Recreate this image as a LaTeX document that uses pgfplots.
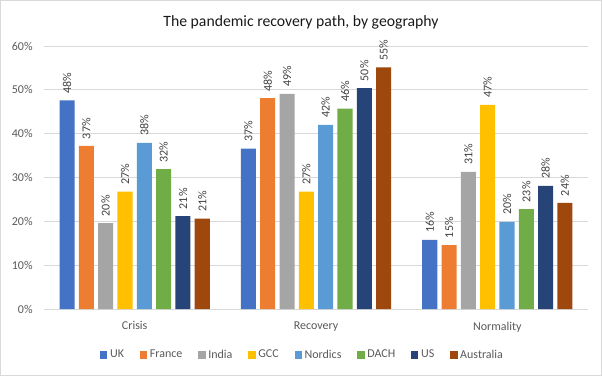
\documentclass[border=0pt]{standalone}
\usepackage{fontspec}
\setmainfont{Carlito}
\usepackage{pgfplots}
\pgfplotsset{compat=1.18}
\definecolor{cUK}{HTML}{4472C4}
\definecolor{cFR}{HTML}{ED7D31}
\definecolor{cIN}{HTML}{A5A5A5}
\definecolor{cGCC}{HTML}{FFC000}
\definecolor{cNO}{HTML}{5B9BD5}
\definecolor{cDA}{HTML}{70AD47}
\definecolor{cUS}{HTML}{264478}
\definecolor{cAU}{HTML}{9E480E}
\definecolor{gridc}{HTML}{D9D9D9}
\definecolor{txt}{HTML}{595959}
\definecolor{lbl}{HTML}{404040}
\begin{document}
\begin{tikzpicture}
\path[use as bounding box] (0,0) rectangle (451.5pt,282pt);
\draw[color=gridc, line width=0.75pt] (0.375pt,0.375pt) rectangle (451.125pt,281.625pt);
\begin{axis}[
  at={(33pt,50.25pt)}, anchor=south west,
  scale only axis, width=408pt, height=197.25pt,
  xmin=-0.5, xmax=2.5, ymin=0, ymax=60,
  ybar, bar width=0.083,
  ytick={0,10,...,60},
  yticklabel={\pgfmathprintnumber{\tick}\%},
  xtick={0,1,2}, xticklabels={Crisis,Recovery,Normality},
  /pgf/number format/assume math mode=true,
  axis line style={draw=none},
  major tick length=0pt,
  ymajorgrids, grid style={color=gridc, line width=0.75pt},
  tick label style={font=\fontsize{9}{11}\selectfont, color=txt},
  yticklabel style={xshift=-5pt},
  xticklabel style={yshift=-6pt},
  title={The pandemic recovery path, by geography},
  title style={at={(0.4724,1)}, anchor=center, yshift=12pt, font=\fontsize{11.8}{14}\selectfont, color=black!90},
  nodes near coords={\pgfmathprintnumber[fixed,precision=0]{\pgfplotspointmeta}\%},
  every node near coord/.append style={rotate=90, anchor=west, font=\fontsize{9}{11}\selectfont, color=lbl, inner xsep=5pt, inner ysep=1pt},
  legend columns=8,
  legend style={at={(0.476,-0.175)}, anchor=center, draw=none, fill=none, font=\fontsize{9}{11}\selectfont, text=txt,
    /tikz/every even column/.append style={column sep=10pt}},
  legend image code/.code={\fill[#1] (0pt,-2.7pt) rectangle (5.4pt,2.7pt);},
]
\addplot[fill=cUK, draw=none, bar shift=-0.3728] coordinates {(0,47.6) (1,36.6) (2,15.8)};
\addplot[fill=cFR, draw=none, bar shift=-0.2663] coordinates {(0,37.2) (1,48.1) (2,14.6)};
\addplot[fill=cIN, draw=none, bar shift=-0.1598] coordinates {(0,19.6) (1,49.1) (2,31.3)};
\addplot[fill=cGCC, draw=none, bar shift=-0.0533] coordinates {(0,26.8) (1,26.8) (2,46.6)};
\addplot[fill=cNO, draw=none, bar shift=0.0533] coordinates {(0,37.9) (1,42.0) (2,19.9)};
\addplot[fill=cDA, draw=none, bar shift=0.1598] coordinates {(0,31.9) (1,45.7) (2,22.8)};
\addplot[fill=cUS, draw=none, bar shift=0.2663] coordinates {(0,21.2) (1,50.4) (2,28.1)};
\addplot[fill=cAU, draw=none, bar shift=0.3728] coordinates {(0,20.6) (1,55.1) (2,24.2)};
\legend{UK,France,India,GCC,Nordics,DACH,US,Australia}
\end{axis}
\end{tikzpicture}
\end{document}
